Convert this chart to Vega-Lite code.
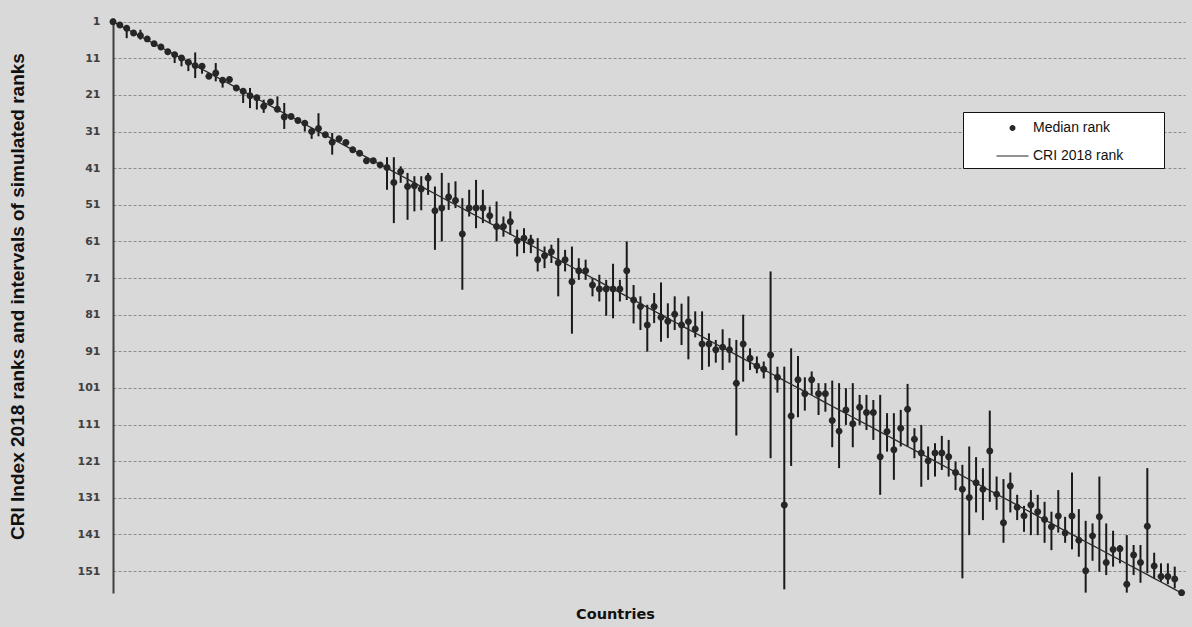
{
  "$schema": "https://vega.github.io/schema/vega-lite/v6.json",
  "autosize": {"type": "none"},
  "padding": {"left": 113, "top": 18, "right": 7, "bottom": 34},
  "width": 1072,
  "height": 575,
  "background": "#d9d9d9",
  "config": {"view": {"stroke": null}},
  "data": {"values": [
    {"c":1,"med":1,"lo":1,"hi":1},{"c":2,"med":1.9,"lo":1.5,"hi":2.5},{"c":3,"med":2.8,"lo":2.3,"hi":5.5},{"c":4,"med":4.1,"lo":3.6,"hi":4.8},{"c":5,"med":4.8,"lo":3.2,"hi":5.9},
    {"c":6,"med":5.7,"lo":5.2,"hi":6.4},{"c":7,"med":7,"lo":6.5,"hi":7.5},{"c":8,"med":7.9,"lo":7.4,"hi":8.5},{"c":9,"med":9.2,"lo":8.7,"hi":9.8},{"c":10,"med":10,"lo":9.5,"hi":12.3},
    {"c":11,"med":10.9,"lo":10.4,"hi":13.2},{"c":12,"med":12.1,"lo":11.5,"hi":14.5},{"c":13,"med":13,"lo":9.4,"hi":16.4},{"c":14,"med":13.2,"lo":12.7,"hi":15.2},{"c":15,"med":15.9,"lo":15.4,"hi":16.5},
    {"c":16,"med":15,"lo":12.3,"hi":17.3},{"c":17,"med":17,"lo":16.3,"hi":19},{"c":18,"med":16.8,"lo":16.3,"hi":17.5},{"c":19,"med":19.1,"lo":18.6,"hi":19.8},{"c":20,"med":20,"lo":19.5,"hi":23.2},
    {"c":21,"med":21.2,"lo":19.1,"hi":24.6},{"c":22,"med":21.8,"lo":21.3,"hi":25},{"c":23,"med":24.1,"lo":22.3,"hi":25.9},{"c":24,"med":22.9,"lo":22.3,"hi":23.6},{"c":25,"med":24.9,"lo":21.4,"hi":25.5},
    {"c":26,"med":27,"lo":23.2,"hi":30.3},{"c":27,"med":26.9,"lo":26.3,"hi":27.6},{"c":28,"med":28,"lo":27.5,"hi":28.6},{"c":29,"med":28.7,"lo":28.2,"hi":31},{"c":30,"med":31,"lo":30.4,"hi":33},
    {"c":31,"med":30.2,"lo":26,"hi":32.3},{"c":32,"med":31.9,"lo":31.4,"hi":32.5},{"c":33,"med":33.9,"lo":31.4,"hi":37.3},{"c":34,"med":33,"lo":32.5,"hi":33.6},{"c":35,"med":34,"lo":33.5,"hi":34.6},
    {"c":36,"med":36,"lo":35.5,"hi":36.6},{"c":37,"med":36.9,"lo":36.4,"hi":37.5},{"c":38,"med":39,"lo":38.5,"hi":39.6},{"c":39,"med":39,"lo":38.5,"hi":39.6},{"c":40,"med":40.1,"lo":39.6,"hi":40.7},
    {"c":41,"med":40.8,"lo":38,"hi":46.9},{"c":42,"med":44.9,"lo":38,"hi":56},{"c":43,"med":41.9,"lo":40.5,"hi":45},{"c":44,"med":46,"lo":42.3,"hi":55.1},{"c":45,"med":45.8,"lo":43.2,"hi":52.8},
    {"c":46,"med":46.7,"lo":43.2,"hi":52.5},{"c":47,"med":43.7,"lo":42.3,"hi":48.3},{"c":48,"med":52.6,"lo":46,"hi":63.3},{"c":49,"med":51.9,"lo":42.3,"hi":61},{"c":50,"med":48.9,"lo":45,"hi":52.4},
    {"c":51,"med":49.8,"lo":44.6,"hi":51.9},{"c":52,"med":59,"lo":49.2,"hi":74.2},{"c":53,"med":51.9,"lo":46.9,"hi":54.2},{"c":54,"med":51.9,"lo":44.2,"hi":57.4},{"c":55,"med":51.9,"lo":46.9,"hi":56},
    {"c":56,"med":54,"lo":51.5,"hi":56},{"c":57,"med":56.9,"lo":50.1,"hi":61},{"c":58,"med":56.9,"lo":54.2,"hi":59.7},{"c":59,"med":55.6,"lo":52.8,"hi":59.2},{"c":60,"med":60.8,"lo":57.8,"hi":65.1},
    {"c":61,"med":60.1,"lo":57.4,"hi":64.2},{"c":62,"med":61,"lo":59.2,"hi":64.2},{"c":63,"med":66,"lo":60.1,"hi":69.2},{"c":64,"med":64.9,"lo":62.4,"hi":68.3},{"c":65,"med":63.8,"lo":61.9,"hi":66.9},
    {"c":66,"med":66.8,"lo":60.1,"hi":76},{"c":67,"med":66,"lo":63.3,"hi":69.2},{"c":68,"med":72,"lo":62.4,"hi":86.2},{"c":69,"med":69,"lo":65.6,"hi":71.5},{"c":70,"med":69,"lo":66,"hi":71.5},
    {"c":71,"med":72.9,"lo":71,"hi":76},{"c":72,"med":74,"lo":70.1,"hi":77.4},{"c":73,"med":74,"lo":71.5,"hi":81.3},{"c":74,"med":74,"lo":67.1,"hi":82},{"c":75,"med":74,"lo":71.5,"hi":77.4},
    {"c":76,"med":69,"lo":61,"hi":77},{"c":77,"med":77,"lo":72.9,"hi":83.4},{"c":78,"med":78.8,"lo":76,"hi":85.2},{"c":79,"med":83.8,"lo":78.3,"hi":91.1},{"c":80,"med":78.8,"lo":75.1,"hi":83.3},
    {"c":81,"med":81.7,"lo":72.2,"hi":88.4},{"c":82,"med":82.8,"lo":77.9,"hi":87.4},{"c":83,"med":80.9,"lo":76,"hi":85.2},{"c":84,"med":83.8,"lo":78,"hi":89.3},{"c":85,"med":82.9,"lo":76,"hi":93.2},
    {"c":86,"med":84.9,"lo":80.1,"hi":87.2},{"c":87,"med":89,"lo":80.1,"hi":96.1},{"c":88,"med":89,"lo":86.1,"hi":95.2},{"c":89,"med":90.6,"lo":87.9,"hi":94.1},{"c":90,"med":89.9,"lo":85,"hi":96.1},
    {"c":91,"med":90.6,"lo":87.4,"hi":94.1},{"c":92,"med":99.7,"lo":87.9,"hi":114},{"c":93,"med":89,"lo":81,"hi":99.3},{"c":94,"med":92.9,"lo":90.2,"hi":96.1},{"c":95,"med":95,"lo":92.4,"hi":97},
    {"c":96,"med":95.9,"lo":93.8,"hi":98.4},{"c":97,"med":92,"lo":69.2,"hi":120.2},{"c":98,"med":98.1,"lo":95.2,"hi":102.3},{"c":99,"med":133,"lo":95.2,"hi":156},{"c":100,"med":108.7,"lo":90.2,"hi":122.3},
    {"c":101,"med":98.8,"lo":92.3,"hi":109},{"c":102,"med":102.6,"lo":98.1,"hi":107.2},{"c":103,"med":98.8,"lo":96.5,"hi":102.9},{"c":104,"med":102.6,"lo":99.7,"hi":108.4},{"c":105,"med":102.6,"lo":99.7,"hi":107.5},
    {"c":106,"med":109.9,"lo":99,"hi":117.2},{"c":107,"med":112.8,"lo":99.7,"hi":122.9},{"c":108,"med":107,"lo":101.1,"hi":111.1},{"c":109,"med":110.8,"lo":99.7,"hi":117.2},{"c":110,"med":106.3,"lo":102.9,"hi":111.1},
    {"c":111,"med":107.7,"lo":102.9,"hi":112.5},{"c":112,"med":107.7,"lo":104.3,"hi":115.2},{"c":113,"med":119.8,"lo":102.9,"hi":130.2},{"c":114,"med":112.9,"lo":107.9,"hi":118.4},{"c":115,"med":117.9,"lo":107.9,"hi":126.1},
    {"c":116,"med":112,"lo":107,"hi":117},{"c":117,"med":106.8,"lo":99.9,"hi":117},{"c":118,"med":115,"lo":112,"hi":120.2},{"c":119,"med":118.8,"lo":111.1,"hi":128},{"c":120,"med":120.9,"lo":117,"hi":126.1},
    {"c":121,"med":118.8,"lo":116.1,"hi":125.2},{"c":122,"med":118.8,"lo":114.1,"hi":123.4},{"c":123,"med":119.8,"lo":115.2,"hi":125.2},{"c":124,"med":124.1,"lo":121.1,"hi":128.9},{"c":125,"med":128.7,"lo":122,"hi":153},
    {"c":126,"med":130.9,"lo":117,"hi":141.2},{"c":127,"med":126.9,"lo":119.9,"hi":135},{"c":128,"med":128.7,"lo":122.9,"hi":137.1},{"c":129,"med":118.2,"lo":107.2,"hi":132.1},{"c":130,"med":130,"lo":125.2,"hi":134.3},
    {"c":131,"med":137.8,"lo":125.9,"hi":143.3},{"c":132,"med":127.8,"lo":124.1,"hi":135},{"c":133,"med":133.6,"lo":130.2,"hi":137.1},{"c":134,"med":135.9,"lo":133.2,"hi":140.3},{"c":135,"med":133,"lo":128.9,"hi":141.2},
    {"c":136,"med":134.8,"lo":130.2,"hi":141.2},{"c":137,"med":136.9,"lo":132.1,"hi":143.3},{"c":138,"med":138.9,"lo":134.8,"hi":145.3},{"c":139,"med":136,"lo":128.9,"hi":140.5},{"c":140,"med":140.6,"lo":136.2,"hi":143.3},
    {"c":141,"med":136,"lo":124.1,"hi":145.1},{"c":142,"med":142.6,"lo":134.1,"hi":147.1},{"c":143,"med":150.9,"lo":137.3,"hi":156.9},{"c":144,"med":141.4,"lo":138,"hi":148.2},{"c":145,"med":136.2,"lo":125.2,"hi":151.2},
    {"c":146,"med":148.7,"lo":138,"hi":152.1},{"c":147,"med":145.1,"lo":140,"hi":149.8},{"c":148,"med":144.9,"lo":143.9,"hi":148.9},{"c":149,"med":154.6,"lo":141.2,"hi":156.9},{"c":150,"med":146.6,"lo":143.9,"hi":152.1},
    {"c":151,"med":148.7,"lo":143.9,"hi":154.2},{"c":152,"med":138.8,"lo":122.9,"hi":151.6},{"c":153,"med":149.6,"lo":146,"hi":153},{"c":154,"med":152.5,"lo":148.9,"hi":153.9},{"c":155,"med":152.5,"lo":148.9,"hi":154.6},
    {"c":156,"med":153.2,"lo":149.8,"hi":155.7},{"c":157,"med":156.9,"lo":156.9,"hi":156.9}
  ]},
  "encoding": {
    "x": {"field": "c", "type": "quantitative", "scale": {"domain": [1, 157.5], "nice": false, "zero": false},
      "axis": {"title": "Countries", "labels": false, "ticks": false, "domain": false, "grid": false,
        "titleFont": "DejaVu Sans", "titleFontSize": 14.5, "titleFontWeight": "bold", "titleColor": "#111111",
        "titleX": 502, "titleY": 21, "titleBaseline": "middle"}}
  },
  "layer": [
    {
      "mark": {"type": "rule", "color": "#1a1a1a", "strokeWidth": 2},
      "encoding": {
        "y": {"field": "lo", "type": "quantitative", "scale": {"domain": [0, 157], "reverse": true, "nice": false, "zero": false},
          "axis": {"title": "CRI Index 2018 ranks and intervals of simulated ranks", "values": [1,11,21,31,41,51,61,71,81,91,101,111,121,131,141,151],
            "tickCount": 30, "labelOverlap": false,
            "grid": true, "gridColor": "#8c8c8c", "gridDash": [3, 2], "gridWidth": 1,
            "ticks": false, "domain": true, "domainColor": "#404040", "domainWidth": 2,
            "labelFont": "DejaVu Sans", "labelFontSize": 11, "labelFontWeight": "bold", "labelColor": "#404040", "labelPadding": 13,
            "titleFont": "Liberation Sans", "titleFontSize": 19, "titleFontWeight": "bold", "titleColor": "#111111",
            "titleX": -96, "titleY": 278, "titleBaseline": "middle", "titleAngle": -90}},
        "y2": {"field": "hi"}
      }
    },
    {
      "mark": {"type": "line", "color": "#2a2a2a", "strokeWidth": 1.3},
      "encoding": {
        "y": {"field": "c", "type": "quantitative"}
      }
    },
    {
      "mark": {"type": "point", "filled": true, "opacity": 1, "size": 540, "color": "#262626"},
      "encoding": {
        "y": {"field": "med", "type": "quantitative"},
        "shape": {"datum": "Median rank",
          "scale": {"domain": ["Median rank", "CRI 2018 rank"],
            "range": ["M-0.3,0A0.3,0.3,0,1,1,0.3,0A0.3,0.3,0,1,1,-0.3,0Z", "M-1.6,-0.06L1.6,-0.06L1.6,0.06L-1.6,0.06Z"]},
          "legend": {"orient": "none", "legendX": 850, "legendY": 94, "title": null,
            "fillColor": "white", "strokeColor": "#111111", "padding": 5,
            "symbolSize": 400, "symbolOffset": 33.5, "labelOffset": 9.5, "rowPadding": 10,
            "labelFont": "Liberation Sans", "labelFontSize": 14, "labelColor": "#111111",
            "labelExpr": "datum.label + '\u00a0\u00a0\u00a0\u00a0\u00a0\u00a0\u00a0\u00a0\u00a0\u200b'",
            "encode": {"symbols": {"update": {"fill": {"value": "#111111"}, "opacity": {"value": 1}}}}}}
      }
    }
  ]
}
